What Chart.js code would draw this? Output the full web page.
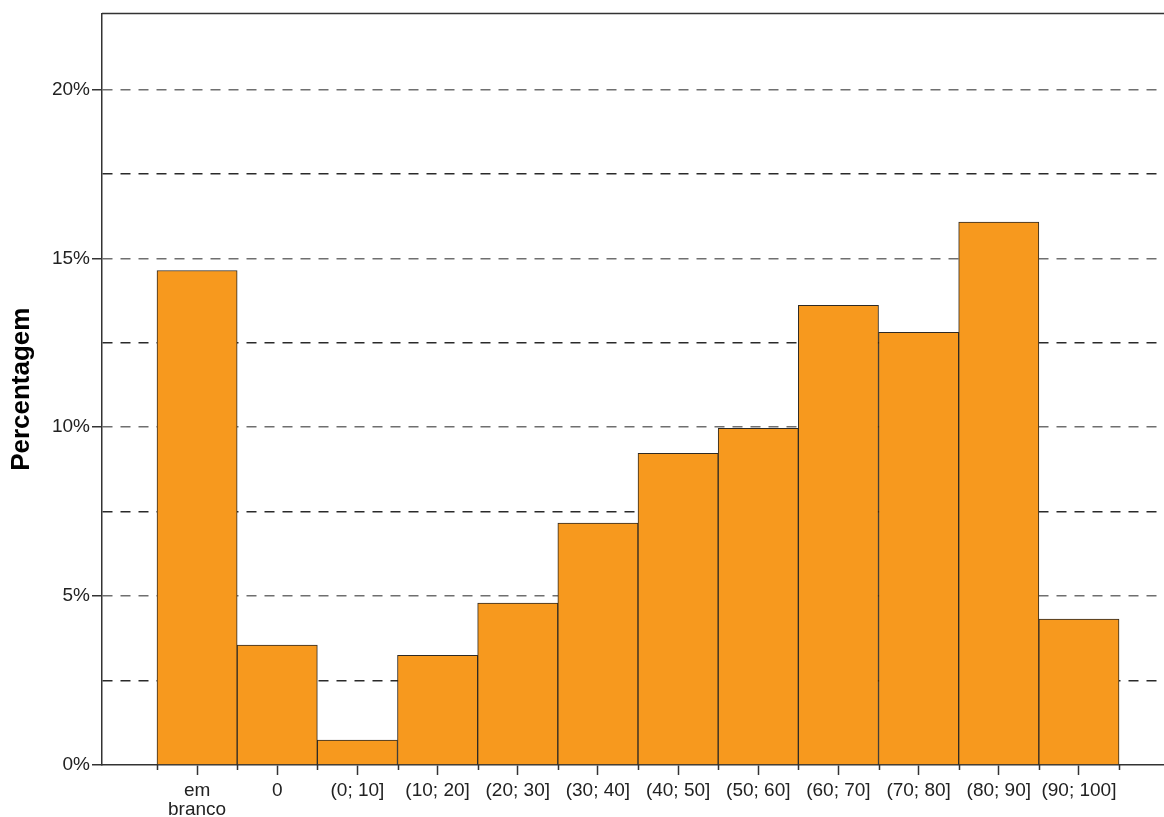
<!DOCTYPE html>
<html>
<head>
<meta charset="utf-8">
<script src="https://cdn.jsdelivr.net/npm/chart.js@4"></script>
<style>
  body { margin: 0; background: #fff; }
  #wrap { width: 1164px; height: 817px; position: relative; }
</style>
</head>
<body>
<div id="wrap"><canvas id="histChart"></canvas></div>
<script>
// Categories and percentages
const categories = [['em', 'branco'], '0', '(0; 10]', '(10; 20]', '(20; 30]', '(30; 40]',
    '(40; 50]', '(50; 60]', '(60; 70]', '(70; 80]', '(80; 90]', '(90; 100]'];
const percentages = [14.64, 3.55, 0.74, 3.25, 4.79, 7.16, 9.23, 9.97, 13.61, 12.81, 16.07, 4.32];
const yTickValues = [0, 2.5, 5, 7.5, 10, 12.5, 15, 17.5, 20];
const yTickLabels = { 0: '0%', 5: '5%', 10: '10%', 15: '15%', 20: '20%' };

const isMajor = v => yTickLabels[v] !== undefined;

// top frame line + short ticks at the bar edges
const framePlugin = {
    id: 'frame',
    afterDraw(chart) {
        const { ctx, chartArea, scales } = chart;
        ctx.save();
        ctx.strokeStyle = '#333';
        ctx.lineWidth = 1.5;
        ctx.beginPath();
        ctx.moveTo(chartArea.left, chartArea.top);
        ctx.lineTo(chartArea.right, chartArea.top);
        ctx.stroke();
        ctx.beginPath();
        for (let i = 0; i <= categories.length; i++) {
            const x = Math.round(scales.x.getPixelForValue(i - 0.5)) + 0.5;
            ctx.moveTo(x, chartArea.bottom);
            ctx.lineTo(x, chartArea.bottom + 5);
        }
        ctx.stroke();
        ctx.restore();
    }
};

const histChart = new Chart(document.getElementById('histChart'), {
    type: 'bar',
    data: {
        datasets: [{
            label: 'Percentagem',
            data: percentages.map((v, i) => ({ x: i, y: v })),
            backgroundColor: '#F7991E',
            borderColor: '#2e2a24',
            borderWidth: 1,
            barPercentage: 1,
            categoryPercentage: 1
        }]
    },
    options: {
        responsive: true,
        maintainAspectRatio: false,
        animation: false,
        layout: { padding: { top: 13, left: 0, right: 0, bottom: 0 } },
        plugins: {
            legend: { display: false },
            tooltip: { enabled: false }
        },
        scales: {
            x: {
                type: 'linear',
                offset: false,
                min: -1.186,
                max: 12.061,
                afterBuildTicks: axis => {
                    axis.ticks = categories.map((c, i) => ({ value: i }));
                },
                afterFit: axis => { axis.height = 52; },
                grid: {
                    offset: false,
                    drawOnChartArea: false,
                    drawTicks: true,
                    tickLength: 10,
                    tickColor: '#333',
                    tickWidth: 1.5
                },
                border: { display: true, color: '#333', width: 1.5 },
                ticks: {
                    autoSkip: false,
                    maxRotation: 0,
                    padding: 6,
                    color: '#222',
                    font: { family: 'Liberation Sans, Arial, sans-serif', size: 19, lineHeight: 1.0 },
                    callback: value => categories[value]
                }
            },
            y: {
                min: 0,
                max: 22.25,
                afterBuildTicks: axis => {
                    axis.ticks = yTickValues.map(v => ({ value: v }));
                },
                afterFit: axis => { axis.width = 102; },
                grid: {
                    color: ctx => ctx.tick && ctx.tick.value === 0 ? 'rgba(0,0,0,0)'
                        : (isMajor(ctx.tick.value) ? '#6f6f6f' : '#2a2a2a'),
                    lineWidth: 1.5,
                    drawTicks: true,
                    tickLength: 10,
                    tickBorderDash: [],
                    tickColor: ctx => isMajor(ctx.tick.value) ? '#333' : 'rgba(0,0,0,0)',
                    tickWidth: 1.5
                },
                border: { display: true, color: '#333', width: 1.5, dash: [10, 8] },
                title: {
                    display: true,
                    text: 'Percentagem',
                    color: '#000',
                    padding: { top: 6, bottom: 0 },
                    font: { family: 'Liberation Sans, Arial, sans-serif', size: 26, weight: 'bold' }
                },
                ticks: {
                    padding: 2,
                    color: '#222',
                    font: { family: 'Liberation Sans, Arial, sans-serif', size: 19 },
                    callback: value => yTickLabels[value] || ''
                }
            }
        }
    },
    plugins: [framePlugin]
});
</script>
</body>
</html>
